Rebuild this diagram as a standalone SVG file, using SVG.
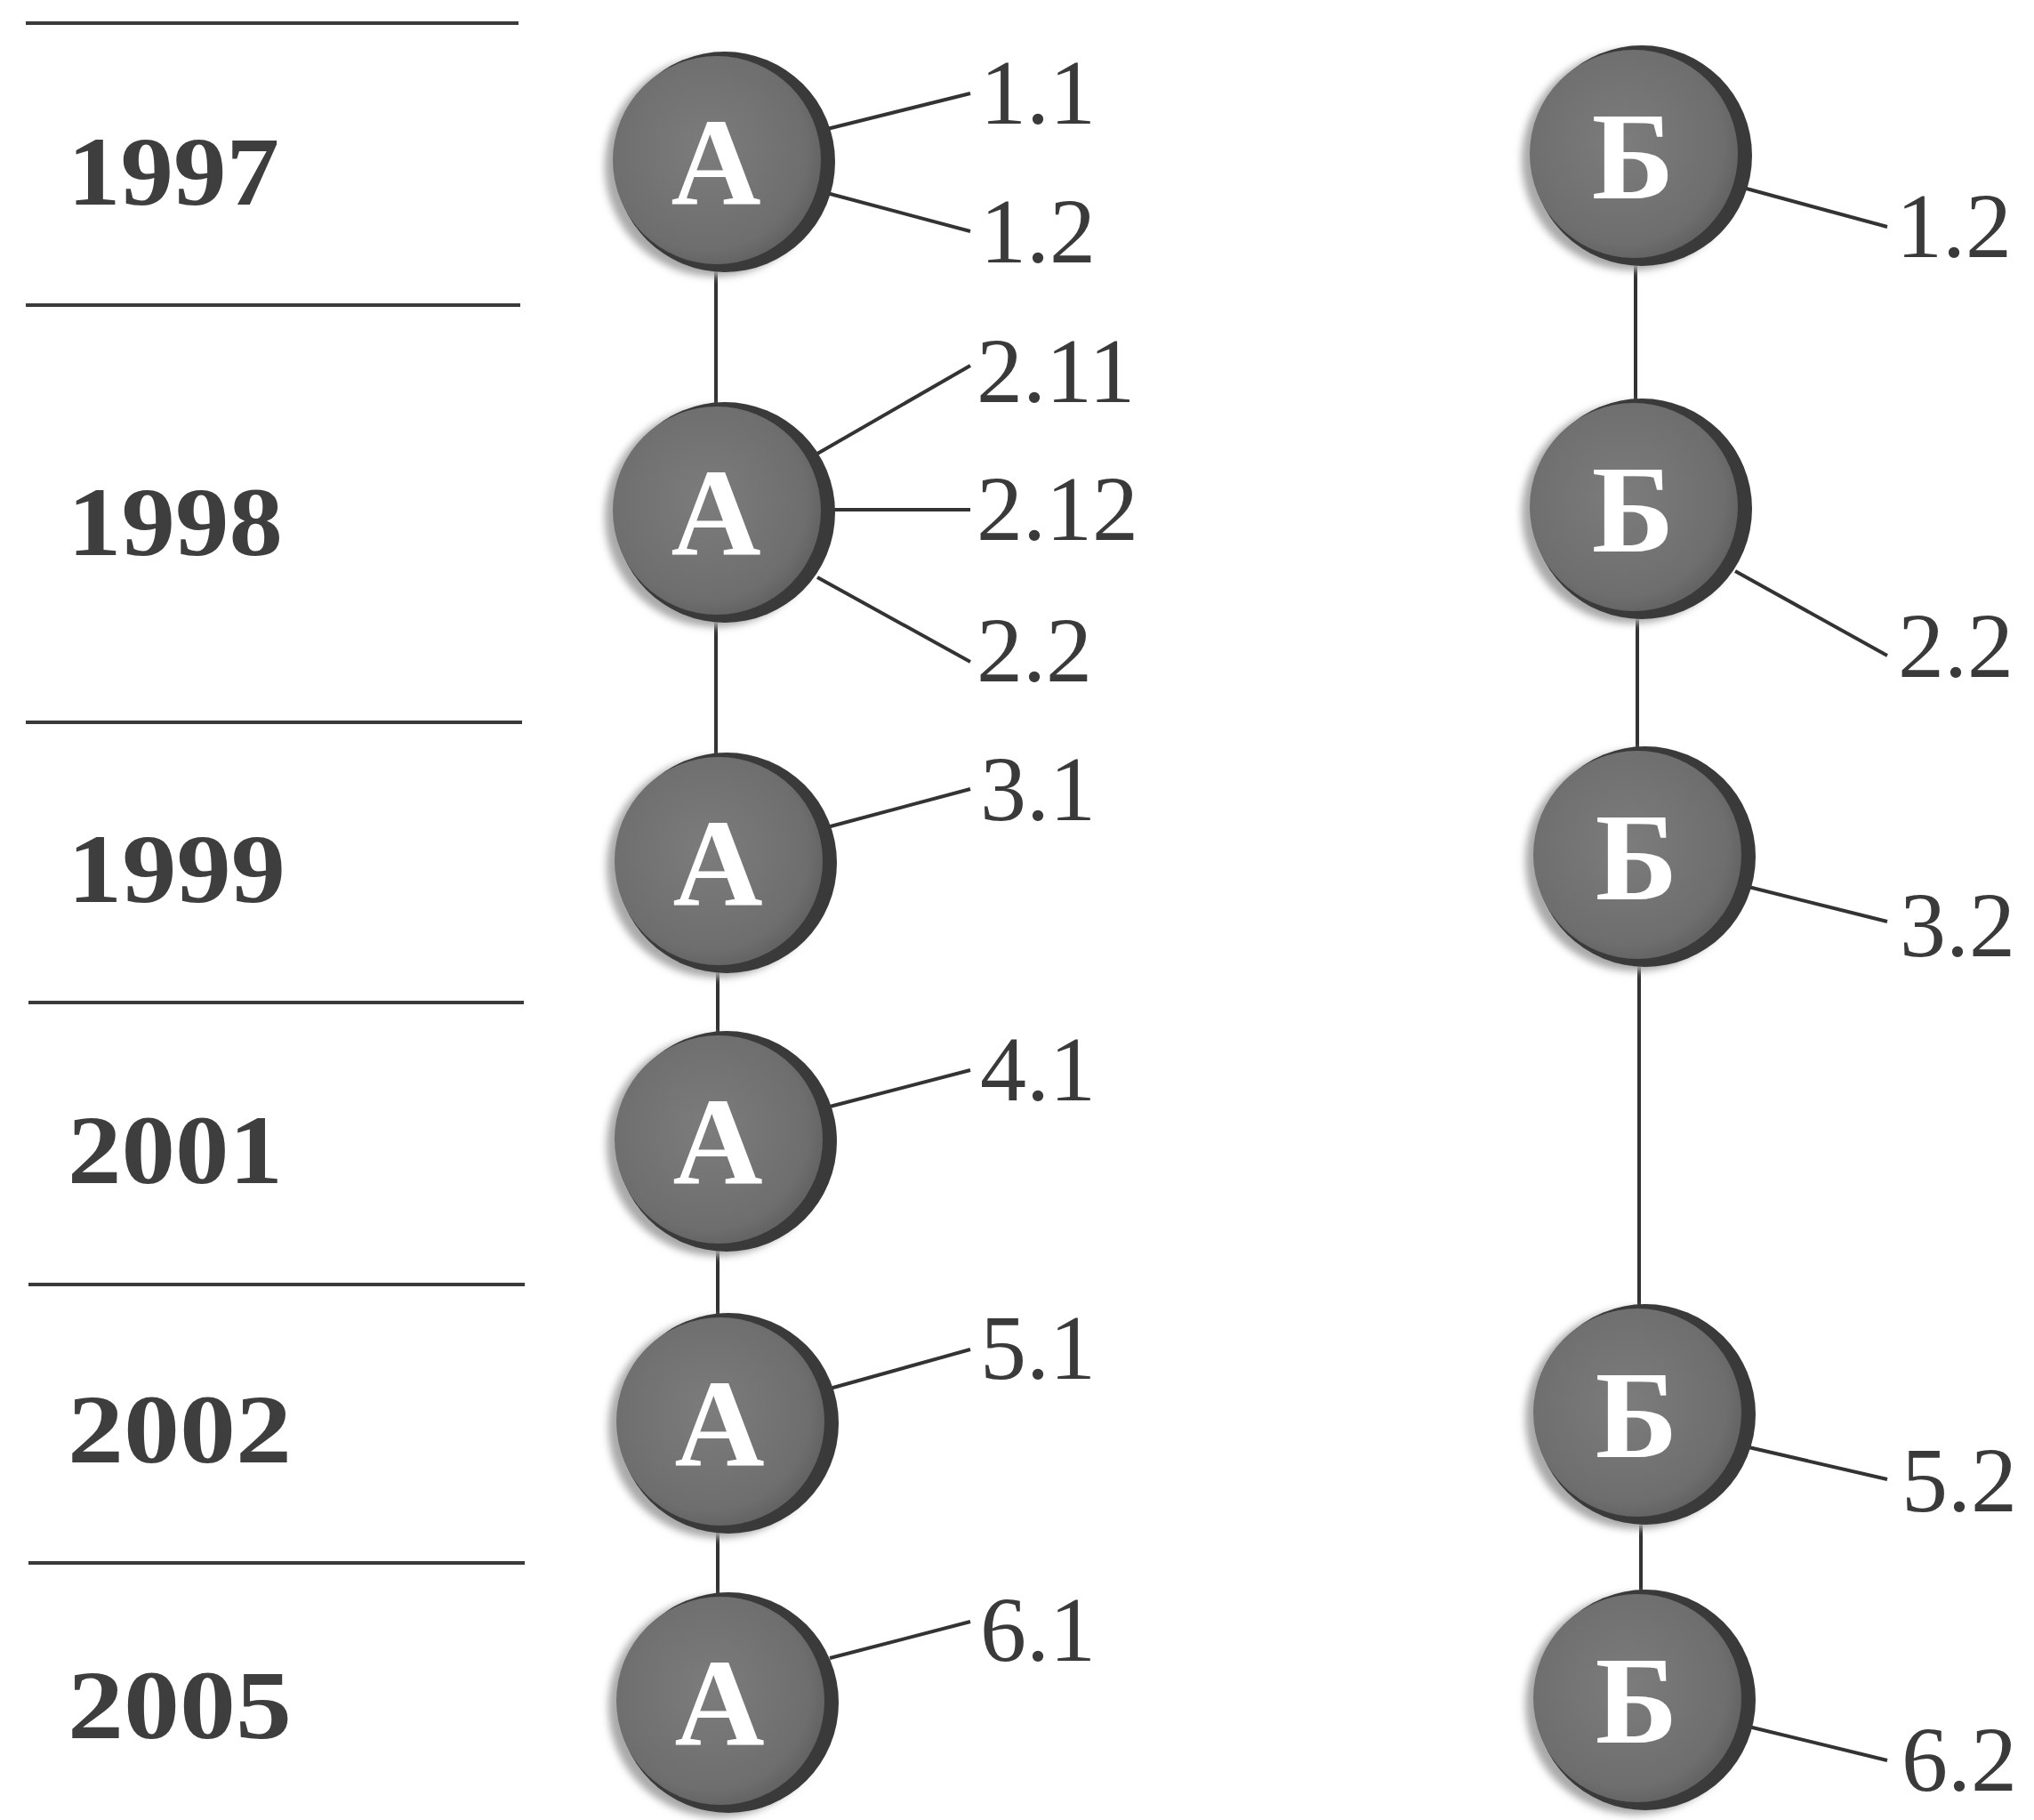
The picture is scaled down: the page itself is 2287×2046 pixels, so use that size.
<svg xmlns="http://www.w3.org/2000/svg" width="2287" height="2046" viewBox="0 0 2287 2046">
<style>
.rule{stroke:#3a3a3a;stroke-width:4}
.year{font-family:"Liberation Serif",serif;font-weight:bold;font-size:110px;fill:#3e3e3e}
.lbl{font-family:"Liberation Serif",serif;font-size:104px;fill:#3a3a3a}
.conn{stroke:#333;stroke-width:4;fill:none}
.letter{font-family:"Liberation Serif",serif;font-weight:bold;font-size:140px;fill:#fff;text-anchor:middle}
</style>
<defs>
<filter id="soft" x="-20%" y="-20%" width="140%" height="140%"><feGaussianBlur stdDeviation="4"/></filter>
<radialGradient id="body" cx="0.45" cy="0.45" r="0.6">
<stop offset="0" stop-color="#7c7c7c"/>
<stop offset="0.8" stop-color="#6e6e6e"/>
<stop offset="1" stop-color="#5e5e5e"/>
</radialGradient>
<g id="disc">
<circle cx="-7" cy="5" r="124" fill="#a9a9a9" filter="url(#soft)"/>
<circle cx="4" cy="0" r="124" fill="#3a3a3a"/>
<circle cx="-5" cy="-2" r="117" fill="url(#body)"/>
</g>
</defs>
<rect width="2287" height="2046" fill="#fff"/>

<g id="rules">
<line class="rule" x1="29" y1="26" x2="583" y2="26"/>
<line class="rule" x1="29" y1="343" x2="585" y2="343"/>
<line class="rule" x1="29" y1="812" x2="587" y2="812"/>
<line class="rule" x1="32" y1="1127" x2="589" y2="1127"/>
<line class="rule" x1="32" y1="1444" x2="590" y2="1444"/>
<line class="rule" x1="32" y1="1757" x2="590" y2="1757"/>
</g>

<g id="years">
<text class="year" x="76" y="230" textLength="238" lengthAdjust="spacingAndGlyphs">1997</text>
<text class="year" x="76" y="624" textLength="242" lengthAdjust="spacingAndGlyphs">1998</text>
<text class="year" x="76" y="1014" textLength="245" lengthAdjust="spacingAndGlyphs">1999</text>
<text class="year" x="76" y="1330" textLength="242" lengthAdjust="spacingAndGlyphs">2001</text>
<text class="year" x="76" y="1644" textLength="252" lengthAdjust="spacingAndGlyphs">2002</text>
<text class="year" x="76" y="1954" textLength="252" lengthAdjust="spacingAndGlyphs">2005</text>
</g>

<g id="connectors">
<line class="conn" x1="805" y1="300" x2="805" y2="460"/>
<line class="conn" x1="805" y1="690" x2="805" y2="855"/>
<line class="conn" x1="807" y1="1085" x2="807" y2="1170"/>
<line class="conn" x1="807" y1="1400" x2="807" y2="1485"/>
<line class="conn" x1="807" y1="1715" x2="807" y2="1800"/>
<line class="conn" x1="1839" y1="290" x2="1839" y2="455"/>
<line class="conn" x1="1841" y1="690" x2="1841" y2="850"/>
<line class="conn" x1="1843" y1="1080" x2="1843" y2="1475"/>
<line class="conn" x1="1845" y1="1705" x2="1845" y2="1795"/>
<line class="conn" x1="926" y1="146" x2="1091" y2="105"/>
<line class="conn" x1="926" y1="216" x2="1091" y2="260"/>
<line class="conn" x1="919" y1="510" x2="1091" y2="411"/>
<line class="conn" x1="933" y1="573" x2="1091" y2="573"/>
<line class="conn" x1="919" y1="649" x2="1091" y2="744"/>
<line class="conn" x1="930" y1="930" x2="1091" y2="887"/>
<line class="conn" x1="933" y1="1244" x2="1091" y2="1203"/>
<line class="conn" x1="933" y1="1561" x2="1091" y2="1517"/>
<line class="conn" x1="933" y1="1864" x2="1091" y2="1823"/>
<line class="conn" x1="1960" y1="211" x2="2122" y2="255"/>
<line class="conn" x1="1951" y1="642" x2="2122" y2="737"/>
<line class="conn" x1="1962" y1="996" x2="2122" y2="1036"/>
<line class="conn" x1="1962" y1="1626" x2="2122" y2="1663"/>
<line class="conn" x1="1962" y1="1940" x2="2122" y2="1979"/>
</g>

<g id="labels">
<text class="lbl" x="1102" y="139">1.1</text>
<text class="lbl" x="1102" y="295">1.2</text>
<text class="lbl" x="1098" y="452">2.11</text>
<text class="lbl" x="1098" y="607">2.12</text>
<text class="lbl" x="1098" y="766">2.2</text>
<text class="lbl" x="1102" y="922">3.1</text>
<text class="lbl" x="1102" y="1237">4.1</text>
<text class="lbl" x="1102" y="1550">5.1</text>
<text class="lbl" x="1102" y="1867">6.1</text>
<text class="lbl" x="2132" y="289">1.2</text>
<text class="lbl" x="2134" y="761">2.2</text>
<text class="lbl" x="2136" y="1075">3.2</text>
<text class="lbl" x="2138" y="1699">5.2</text>
<text class="lbl" x="2138" y="2013">6.2</text>
</g>

<g id="node-a1" transform="translate(811,182)"><use href="#disc"/><text class="letter" x="-6" y="48">А</text></g>
<g id="node-a2" transform="translate(811,576)"><use href="#disc"/><text class="letter" x="-6" y="48">А</text></g>
<g id="node-a3" transform="translate(813,970)"><use href="#disc"/><text class="letter" x="-6" y="48">А</text></g>
<g id="node-a4" transform="translate(813,1283)"><use href="#disc"/><text class="letter" x="-6" y="48">А</text></g>
<g id="node-a5" transform="translate(815,1600)"><use href="#disc"/><text class="letter" x="-6" y="48">А</text></g>
<g id="node-a6" transform="translate(815,1914)"><use href="#disc"/><text class="letter" x="-6" y="48">А</text></g>
<g id="node-b1" transform="translate(1842,175)"><use href="#disc"/><text class="letter" x="-6" y="48">Б</text></g>
<g id="node-b2" transform="translate(1842,572)"><use href="#disc"/><text class="letter" x="-6" y="48">Б</text></g>
<g id="node-b3" transform="translate(1846,963)"><use href="#disc"/><text class="letter" x="-6" y="48">Б</text></g>
<g id="node-b4" transform="translate(1846,1590)"><use href="#disc"/><text class="letter" x="-6" y="48">Б</text></g>
<g id="node-b5" transform="translate(1846,1911)"><use href="#disc"/><text class="letter" x="-6" y="48">Б</text></g>
</svg>
